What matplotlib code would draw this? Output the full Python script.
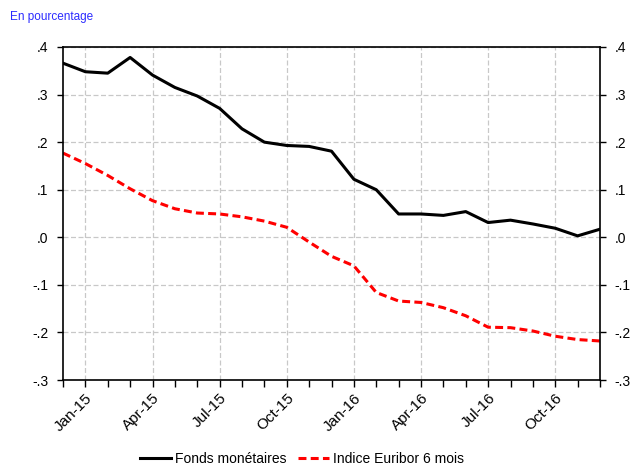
import matplotlib
matplotlib.use("Agg")
import matplotlib.pyplot as plt
from matplotlib.ticker import FixedLocator, FuncFormatter
import numpy as np

plt.rcParams['font.family'] = ['Liberation Sans', 'DejaVu Sans']

# mois de dec-14 a dec-16
mois = ["Dec-14", "Jan-15", "Feb-15", "Mar-15", "Apr-15", "May-15", "Jun-15", "Jul-15",
        "Aug-15", "Sep-15", "Oct-15", "Nov-15", "Dec-15", "Jan-16", "Feb-16", "Mar-16",
        "Apr-16", "May-16", "Jun-16", "Jul-16", "Aug-16", "Sep-16", "Oct-16", "Nov-16", "Dec-16"]

fonds_monetaires = [0.366, 0.348, 0.345, 0.378, 0.341, 0.315, 0.297, 0.271, 0.228, 0.200,
                    0.193, 0.191, 0.181, 0.122, 0.100, 0.049, 0.049, 0.046, 0.054, 0.031,
                    0.036, 0.028, 0.019, 0.003, 0.017]

euribor_6m = [0.177, 0.155, 0.130, 0.102, 0.077, 0.060, 0.051, 0.049, 0.043, 0.034,
              0.021, -0.010, -0.040, -0.060, -0.116, -0.134, -0.137, -0.148, -0.165, -0.189,
              -0.190, -0.197, -0.208, -0.215, -0.218]

etiquettes = ["Jan-15", "Apr-15", "Jul-15", "Oct-15", "Jan-16", "Apr-16", "Jul-16", "Oct-16"]

x = np.arange(len(mois))

fig = plt.figure(figsize=(6.32, 4.66), dpi=100)
ax = fig.add_axes([63 / 632, 1 - 380 / 466, 537 / 632, 333 / 466])

ax.plot(x, fonds_monetaires, color='black', lw=2.2, label="Fonds monétaires")
ax.plot(x, euribor_6m, color='red', lw=2.2, dashes=(2.6, 1.4), label="Indice Euribor 6 mois")

ax.set_xlim(0, len(mois) - 1)
ax.set_ylim(-0.3, 0.4)

pos_lab = [mois.index(m) for m in etiquettes]
ax.xaxis.set_major_locator(FixedLocator(pos_lab))
ax.xaxis.set_minor_locator(FixedLocator(x))
ax.set_xticklabels(etiquettes, rotation=45, ha='right', rotation_mode='anchor', fontsize=11)
ax.tick_params(axis='x', which='both', length=5, width=1, direction='out', pad=3)

yt = np.round(np.arange(-0.3, 0.41, 0.1), 1)
ax.set_yticks(yt)
fmt = FuncFormatter(lambda v, p: ("-" if v < -1e-9 else "") + ("%.1f" % abs(v))[1:])
ax.yaxis.set_major_formatter(fmt)
ax.tick_params(axis='y', length=4.5, width=1, direction='out', labelsize=10, pad=6,
               right=True, labelright=True)

ax.grid(True, which='major', color='#c8c8c8', ls=(0, (4, 2)), lw=0.9)
for s in ax.spines.values():
    s.set_linewidth(1.2)

fig.text(10 / 632, 1 - 17 / 466, "En pourcentage", color='#2b2bff', fontsize=8.5, va='center')

fig.legend(loc='center', bbox_to_anchor=(302 / 632, 1 - 459 / 466), ncol=2, frameon=False,
           fontsize=10, handlelength=2.25, columnspacing=0.8, handletextpad=0.3,
           borderpad=0, borderaxespad=0)

fig.savefig("out.png", dpi=100)
